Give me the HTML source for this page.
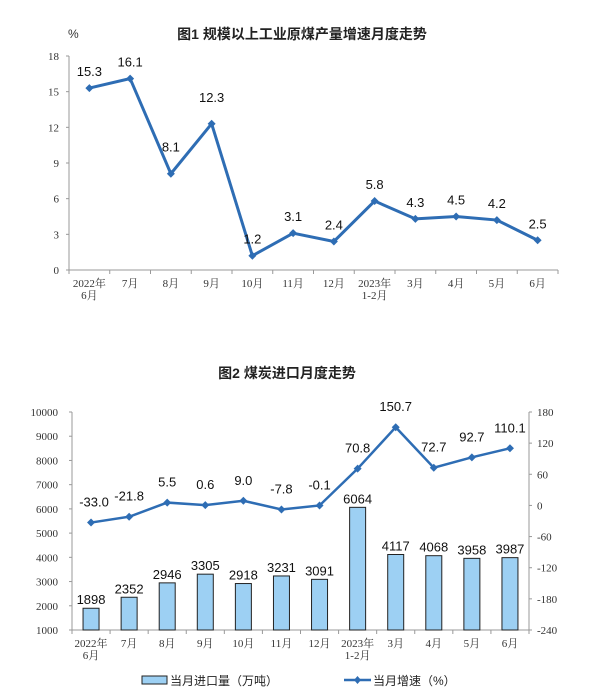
<!DOCTYPE html>
<html><head><meta charset="utf-8"><style>
body{margin:0;background:#fff;}
svg text{font-family:"Liberation Sans","Noto Sans CJK SC",sans-serif;}
.tk{font-family:"Liberation Serif","Noto Serif CJK SC",serif;font-size:11px;fill:#333;}
.vl{font-size:13px;fill:#111;}
</style></head><body>
<svg id="c" width="600" height="695" xmlns="http://www.w3.org/2000/svg">
<text x="302" y="39" text-anchor="middle" font-size="14" font-weight="bold" fill="#222">图1  规模以上工业原煤产量增速月度走势</text>
<text x="68" y="38" font-size="12" fill="#333">%</text>
<text x="287" y="378" text-anchor="middle" font-size="14" font-weight="bold" fill="#222">图2  煤炭进口月度走势</text>
<g id="g1"></g><g id="g2"></g>
<g>
<rect x="142" y="676" width="25" height="8" fill="#9DD0F3" stroke="#222" stroke-width="1"/>
<text x="170" y="685" font-size="12" fill="#222">当月进口量（万吨）</text>
<line x1="344" y1="680" x2="371" y2="680" stroke="#2E6DB4" stroke-width="2.5"/>
<path d="M357.5 676 L361 680 L357.5 684 L354 680Z" fill="#2E6DB4"/>
<text x="373" y="685" font-size="12" fill="#222">当月增速（%）</text>
</g>
</svg>
<script>
const cats1=[["2022年","6月"],["7月"],["8月"],["9月"],["10月"],["11月"],["12月"],["2023年","1-2月"],["3月"],["4月"],["5月"],["6月"]];
const growth1=[15.3,16.1,8.1,12.3,1.2,3.1,2.4,5.8,4.3,4.5,4.2,2.5];
const ticks1=[0,3,6,9,12,15,18];
const imports2=[1898,2352,2946,3305,2918,3231,3091,6064,4117,4068,3958,3987];
const growth2=[-33.0,-21.8,5.5,0.6,9.0,-7.8,-0.1,70.8,150.7,72.7,92.7,110.1];
const ticksL2=[1000,2000,3000,4000,5000,6000,7000,8000,9000,10000];
const ticksR2=[-240,-180,-120,-60,0,60,120,180];
const NS="http://www.w3.org/2000/svg";
function mk(p,t,a,txt){const e=document.createElementNS(NS,t);for(const k in a)e.setAttribute(k,a[k]);if(txt!=null)e.textContent=txt;p.appendChild(e);return e;}
function diamond(p,x,y,r){return mk(p,'path',{d:`M${x} ${y-r} L${x+r} ${y} L${x} ${y+r} L${x-r} ${y}Z`,fill:'#2E6DB4'});}
// chart 1
(function(){
const g=document.getElementById('g1');
const x0=69,x1=558,yB=270,yT=56,n=cats1.length,w=(x1-x0)/n;
const X=i=>x0+w*(i+0.5),Y=v=>yB-(v-0)/(18-0)*(yB-yT);
mk(g,'line',{x1:x0,y1:yT,x2:x0,y2:yB,stroke:'#999'});
mk(g,'line',{x1:x0,y1:yB,x2:x1,y2:yB,stroke:'#999'});
ticks1.forEach(t=>{const e=mk(g,'text',{x:x0-10,y:Y(t)+4,'text-anchor':'end',class:'tk'},t);mk(g,'line',{x1:x0-3,y1:Y(t),x2:x0,y2:Y(t),stroke:'#999'});});
for(let i=0;i<=n;i++)mk(g,'line',{x1:x0+w*i,y1:yB,x2:x0+w*i,y2:yB+4,stroke:'#999'});
cats1.forEach((c,i)=>c.forEach((s,j)=>{const e=mk(g,'text',{x:X(i),y:287+j*12,'text-anchor':'middle',class:'tk'},s);}));
const ln=mk(g,'polyline',{points:growth1.map((v,i)=>X(i)+','+Y(v)).join(' '),fill:'none',stroke:'#2E6DB4','stroke-width':3});

growth1.forEach((v,i)=>{const d=diamond(g,X(i),Y(v),4);
const off=(i==2||i==3)?22:12;
const t=mk(g,'text',{x:X(i),y:Y(v)-off,'text-anchor':'middle',class:'vl'},v.toFixed(1));});
})();
// chart 2
(function(){
const g=document.getElementById('g2');
const x0=72,x1=529,yB=630,yT=412,n=imports2.length,w=(x1-x0)/n;
const X=i=>x0+w*(i+0.5),YL=v=>yB-(v-1000)/(10000-1000)*(yB-yT),YR=v=>yB-(v+240)/420*(yB-yT);
mk(g,'line',{x1:x0,y1:yT,x2:x0,y2:yB,stroke:'#999'});
mk(g,'line',{x1:x1,y1:yT,x2:x1,y2:yB,stroke:'#999'});
mk(g,'line',{x1:x0,y1:yB,x2:x1,y2:yB,stroke:'#999'});
ticksL2.forEach(t=>{const e=mk(g,'text',{x:x0-14,y:YL(t)+4,'text-anchor':'end',class:'tk'},t);mk(g,'line',{x1:x0-3,y1:YL(t),x2:x0,y2:YL(t),stroke:'#999'});});
ticksR2.forEach(t=>{const e=mk(g,'text',{x:x1+8,y:YR(t)+4,class:'tk'},t);mk(g,'line',{x1:x1,y1:YR(t),x2:x1+3,y2:YR(t),stroke:'#999'});});
for(let i=0;i<=n;i++)mk(g,'line',{x1:x0+w*i,y1:yB,x2:x0+w*i,y2:yB+4,stroke:'#999'});
cats1.forEach((c,i)=>c.forEach((s,j)=>{const e=mk(g,'text',{x:X(i),y:647+j*12,'text-anchor':'middle',class:'tk'},s);}));
imports2.forEach((v,i)=>{const b=mk(g,'rect',{x:X(i)-8,y:YL(v),width:16,height:yB-YL(v),fill:'#9DD0F3',stroke:'#222','stroke-width':1});
const t=mk(g,'text',{x:X(i),y:YL(v)-4,'text-anchor':'middle',class:'vl'},v);});
const ln=mk(g,'polyline',{points:growth2.map((v,i)=>X(i)+','+YR(v)).join(' '),fill:'none',stroke:'#2E6DB4','stroke-width':2.5});

growth2.forEach((v,i)=>{const d=diamond(g,X(i),YR(v),4);
const t=mk(g,'text',{x:X(i)+(i==0?3:0),y:YR(v)-16,'text-anchor':'middle',class:'vl'},v.toFixed(1));});
})();
</script>
</body></html>
